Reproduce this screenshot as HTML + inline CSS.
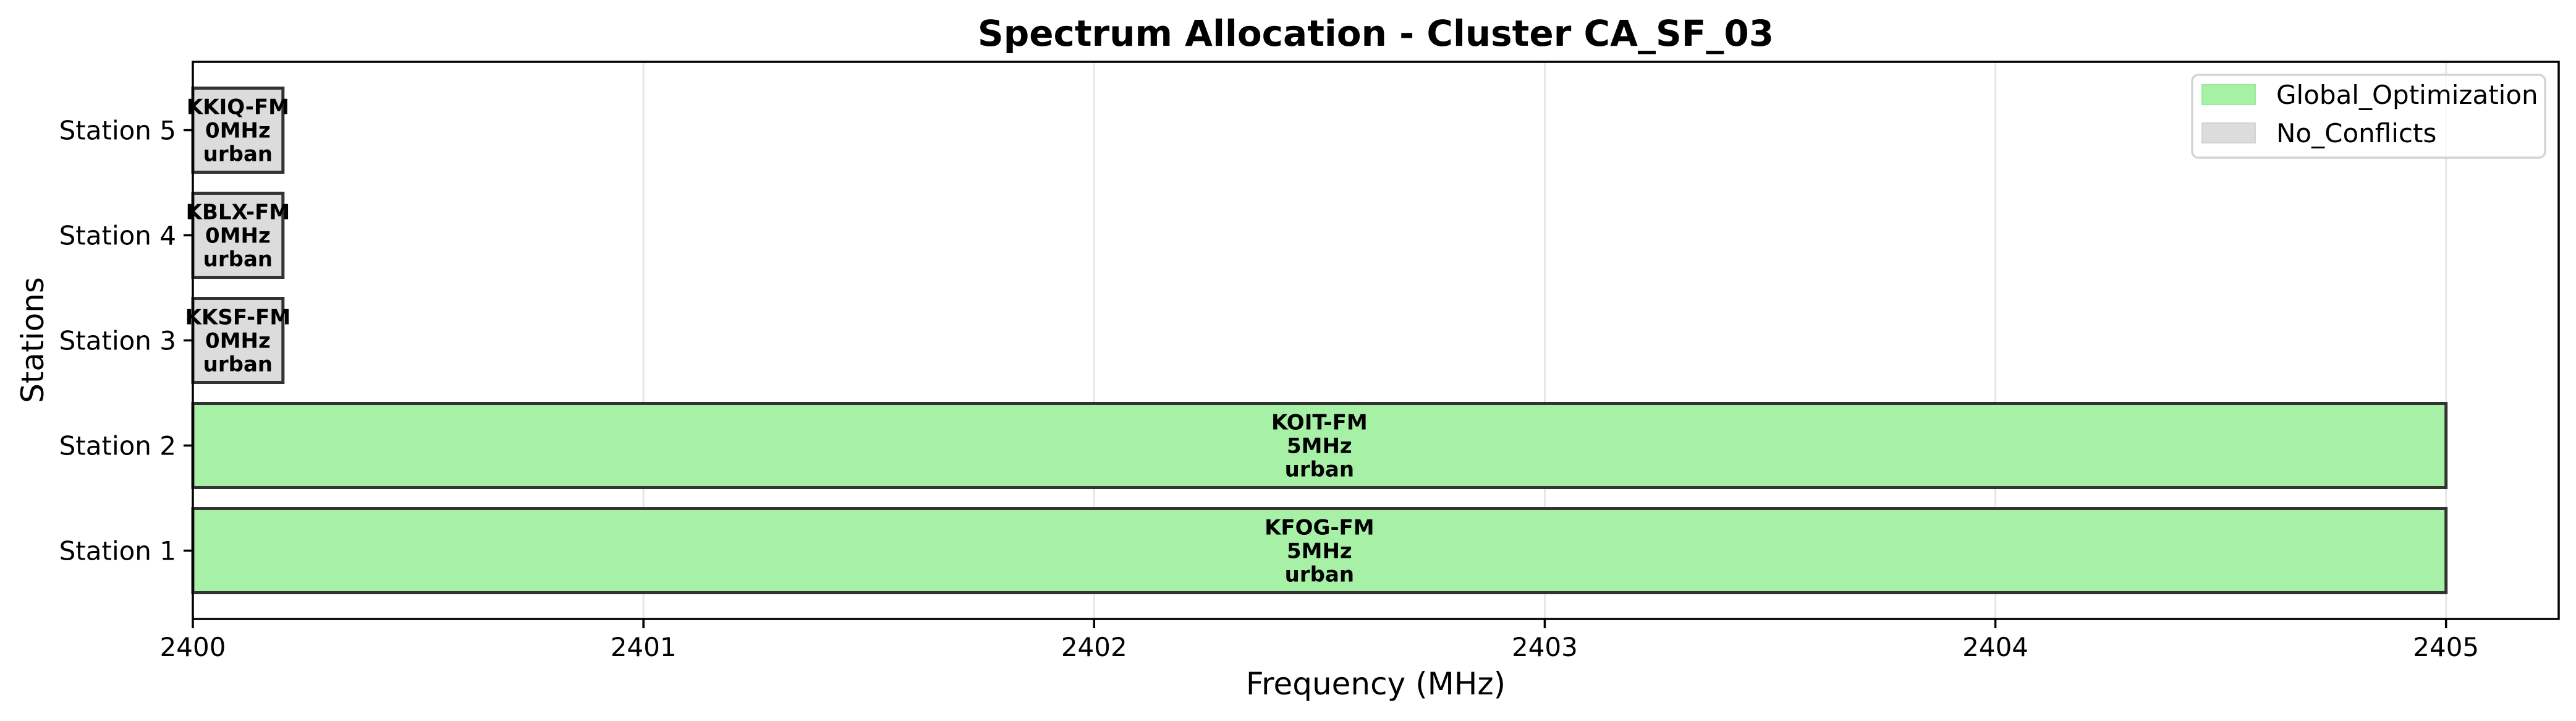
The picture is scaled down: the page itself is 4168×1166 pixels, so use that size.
<!DOCTYPE html>
<html><head><meta charset="utf-8"><style>
html,body{margin:0;padding:0;background:#fff;}
svg{display:block;font-family:"DejaVu Sans","Liberation Sans",sans-serif;}
</style></head><body>
<svg id="chart" width="4168" height="1166" viewBox="0 0 4168 1166" xmlns="http://www.w3.org/2000/svg">
<rect width="4168" height="1166" fill="#fff"/>
<text x="2226" y="74" text-anchor="middle" font-size="58" font-weight="bold">Spectrum Allocation - Cluster CA_SF_03</text>
<g id="grid"></g>
<g id="bars"></g>
<rect x="312" y="100" width="3828" height="901" fill="none" stroke="#000" stroke-width="3.5"/>
<g id="xticks"></g>
<g id="yticks"></g>
<text x="2226" y="1123" text-anchor="middle" font-size="50">Frequency (MHz)</text>
<text transform="translate(70,550) rotate(-90)" text-anchor="middle" font-size="50">Stations</text>
<g>
<rect x="3547" y="121" width="571" height="134" rx="10" fill="#fff" fill-opacity="0.8" stroke="#d4d4d4" stroke-width="3.5"/>
<rect x="3563" y="137" width="86" height="32" fill="#a6f1a6" stroke="#98ec98" stroke-width="2"/>
<text x="3683" y="168" font-size="42">Global_Optimization</text>
<rect x="3563" y="199" width="86" height="32" fill="#dcdcdc" stroke="#d3d3d3" stroke-width="2"/>
<text x="3683" y="230" font-size="42">No_Conflicts</text>
</g>
</svg>
<script>
const stations = ["Station 1","Station 2","Station 3","Station 4","Station 5"];
const callsigns = ["KFOG-FM","KOIT-FM","KKSF-FM","KBLX-FM","KKIQ-FM"];
const startFreq = [2400,2400,2400,2400,2400];
const bandwidth = [5,5,0,0,0];
const drawWidth = [5,5,0.2,0.2,0.2];
const areaType = ["urban","urban","urban","urban","urban"];
const strategy = ["Global_Optimization","Global_Optimization","No_Conflicts","No_Conflicts","No_Conflicts"];
const xTicks = [2400,2401,2402,2403,2404,2405];

const NS="http://www.w3.org/2000/svg";
const L=312,R=4140,T=100,B=1001;
const xmin=2400,xmax=2405.25,ymin=-0.65,ymax=4.65;
const xs=v=>L+(v-xmin)/(xmax-xmin)*(R-L);
const ys=v=>B-(v-ymin)/(ymax-ymin)*(B-T);
const colors={"Global_Optimization":"#a6f1a6","No_Conflicts":"#dcdcdc"};
function mk(tag,attrs,parent){const e=document.createElementNS(NS,tag);for(const k in attrs)e.setAttribute(k,attrs[k]);parent.appendChild(e);return e;}
const grid=document.getElementById('grid'),bars=document.getElementById('bars'),xt=document.getElementById('xticks'),yt=document.getElementById('yticks');
xTicks.forEach(v=>{
  const g=mk('line',{x1:xs(v),x2:xs(v),y1:T,y2:B,stroke:'#e6e6e6','stroke-width':3},grid);
  
  
  const t=mk('line',{x1:xs(v),x2:xs(v),y1:B,y2:B+15,stroke:'#000','stroke-width':3.5},xt);
  
  
  const l=mk('text',{x:xs(v),y:B+60,'text-anchor':'middle','font-size':42},xt);
  l.textContent=v;
  
  
});
const bh=0.8;
stations.forEach((s,i)=>{
  const t=mk('line',{x1:L-15,x2:L,y1:ys(i),y2:ys(i),stroke:'#000','stroke-width':3.5},yt);
  
  
  const l=mk('text',{x:L-27,y:ys(i)+15,'text-anchor':'end','font-size':42},yt);
  l.textContent=s;
  
  
  const x0=xs(startFreq[i]),x1=xs(startFreq[i]+drawWidth[i]);
  const r=mk('rect',{x:x0,y:ys(i+bh/2),width:x1-x0,height:ys(i-bh/2)-ys(i+bh/2),fill:colors[strategy[i]],stroke:'#333','stroke-width':5},bars);
  
  
  const cx=(x0+x1)/2;
  const lines=[callsigns[i],bandwidth[i]+'MHz',areaType[i]];
  const tx=mk('text',{x:cx,'text-anchor':'middle','font-size':34,'font-weight':'bold'},bars);
  
  
  lines.forEach((ln,k)=>{const sp=mk('tspan',{x:cx,y:ys(i)+(k-1)*38+12},tx);sp.textContent=ln;});
});
</script>
</body></html>
